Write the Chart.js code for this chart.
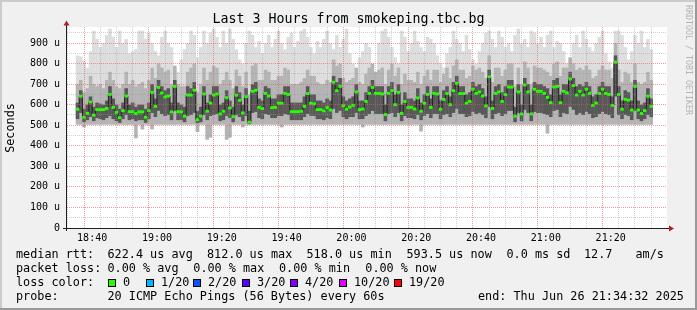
<!DOCTYPE html>
<html>
<head>
<meta charset="utf-8">
<title>Last 3 Hours from smokeping.tbc.bg</title>
<script src="https://cdn.jsdelivr.net/npm/chart.js@4.4.1/dist/chart.umd.min.js"></script>
<style>
  html, body { margin: 0; padding: 0; background: #f0f0f0; }
  canvas { display: block; }
</style>
</head>
<body>
<canvas id="smoke" width="697" height="310"></canvas>
<script>
// one column per minute, first column starts at 18:35 (minutes after 18:00)
const firstMinute = 35;

// median rtt per minute, in microseconds
const medianRtt = [
  578, 641, 539, 558, 613, 549, 576, 576, 576, 582,
  650, 587, 563, 537, 571, 642, 566, 566, 557, 565,
  565, 539, 571, 660, 592, 684, 657, 638, 642, 565,
  689, 566, 565, 544, 647, 647, 670, 527, 544, 652,
  568, 608, 647, 652, 555, 568, 634, 584, 542, 646,
  621, 560, 639, 515, 665, 670, 587, 581, 655, 642,
  586, 587, 607, 607, 655, 650, 566, 566, 566, 568,
  592, 654, 607, 604, 576, 576, 570, 586, 574, 709,
  668, 689, 595, 578, 589, 597, 662, 576, 579, 616,
  655, 684, 655, 655, 652, 552, 655, 668, 600, 660,
  558, 615, 587, 587, 579, 633, 568, 607, 650, 587,
  655, 652, 578, 626, 654, 600, 668, 704, 654, 654,
  607, 616, 675, 655, 662, 642, 594, 736, 582, 655,
  662, 616, 649, 686, 686, 544, 662, 555, 696, 662,
  555, 675, 665, 665, 655, 636, 610, 686, 689, 610,
  665, 658, 725, 693, 647, 665, 647, 675, 655, 597,
  608, 655, 675, 655, 650, 597, 807, 650, 578, 626,
  622, 574, 689, 574, 557, 571, 641, 592
];

// smoke: fastest ping of each minute
const pingMin = [
  503, 503, 490, 503, 503, 503, 503, 503, 503, 503,
  503, 503, 503, 503, 503, 503, 503, 503, 437, 503,
  480, 503, 503, 480, 503, 503, 503, 503, 503, 503,
  503, 503, 503, 503, 503, 503, 503, 467, 503, 503,
  430, 440, 503, 503, 503, 503, 430, 440, 503, 503,
  503, 490, 503, 503, 503, 503, 503, 503, 503, 503,
  503, 503, 503, 490, 503, 503, 503, 503, 503, 503,
  503, 503, 503, 503, 503, 503, 503, 503, 503, 503,
  503, 503, 503, 503, 503, 503, 503, 503, 490, 503,
  503, 503, 503, 503, 503, 503, 503, 503, 503, 503,
  503, 503, 503, 503, 503, 503, 470, 503, 503, 503,
  503, 503, 503, 503, 503, 503, 503, 503, 503, 503,
  503, 503, 503, 503, 503, 503, 503, 503, 503, 503,
  503, 503, 503, 503, 503, 503, 503, 503, 503, 503,
  503, 503, 503, 503, 503, 460, 503, 503, 503, 503,
  503, 503, 503, 503, 503, 503, 503, 503, 503, 503,
  503, 503, 503, 503, 503, 503, 503, 503, 503, 503,
  503, 503, 503, 503, 503, 503, 503, 503
];

// smoke: bottom of the dark core
const pingLow = [
  530, 560, 515, 525, 540, 520, 535, 530, 525, 535,
  545, 530, 520, 512, 530, 550, 525, 530, 520, 525,
  525, 512, 530, 560, 540, 570, 555, 545, 550, 525,
  570, 525, 525, 515, 545, 550, 560, 510, 515, 550,
  525, 545, 550, 555, 520, 525, 545, 535, 515, 550,
  540, 520, 545, 505, 560, 565, 535, 530, 555, 550,
  535, 535, 545, 545, 555, 550, 525, 525, 525, 525,
  540, 555, 545, 545, 530, 530, 525, 535, 530, 580,
  560, 570, 540, 530, 540, 540, 560, 530, 530, 545,
  555, 570, 555, 555, 555, 520, 555, 560, 540, 560,
  520, 545, 535, 535, 530, 550, 525, 545, 555, 535,
  555, 555, 530, 550, 555, 540, 560, 580, 555, 555,
  540, 545, 565, 555, 560, 550, 535, 590, 530, 555,
  560, 545, 555, 570, 570, 515, 560, 520, 575, 560,
  520, 565, 560, 560, 555, 550, 540, 570, 575, 540,
  560, 555, 590, 575, 550, 560, 550, 565, 555, 535,
  540, 555, 565, 555, 550, 535, 640, 550, 530, 550,
  545, 525, 570, 530, 520, 530, 550, 540
];

// smoke: top of the dark core
const pingHigh = [
  610, 670, 580, 600, 640, 590, 610, 605, 600, 620,
  690, 630, 600, 580, 610, 680, 600, 610, 590, 600,
  600, 580, 610, 700, 630, 720, 690, 670, 680, 610,
  720, 610, 600, 590, 690, 680, 710, 570, 590, 690,
  610, 650, 690, 690, 600, 610, 670, 620, 590, 690,
  660, 600, 680, 570, 700, 710, 630, 620, 690, 680,
  630, 630, 650, 650, 690, 690, 610, 610, 610, 610,
  640, 690, 650, 650, 620, 620, 610, 630, 620, 740,
  710, 730, 640, 620, 630, 640, 700, 620, 620, 660,
  690, 720, 690, 690, 690, 600, 690, 710, 650, 700,
  600, 660, 630, 630, 620, 680, 610, 650, 690, 630,
  690, 690, 620, 670, 690, 640, 710, 740, 690, 690,
  650, 660, 710, 690, 700, 680, 640, 770, 620, 690,
  700, 660, 690, 720, 720, 590, 700, 600, 730, 700,
  600, 710, 700, 700, 690, 680, 650, 720, 730, 650,
  700, 700, 760, 730, 690, 700, 690, 710, 690, 640,
  650, 690, 710, 690, 690, 640, 840, 690, 620, 670,
  660, 620, 720, 620, 600, 610, 680, 630
];

// smoke: top of the middle grey
const pingUpper = [
  700, 720, 660, 680, 740, 700, 690, 700, 680, 720,
  760, 720, 690, 680, 700, 760, 700, 720, 690, 700,
  710, 680, 720, 780, 730, 800, 780, 760, 770, 700,
  790, 700, 690, 690, 760, 780, 800, 660, 700, 780,
  720, 760, 790, 780, 700, 720, 760, 720, 680, 770,
  740, 690, 760, 650, 790, 800, 720, 720, 770, 760,
  720, 720, 740, 740, 780, 770, 700, 700, 700, 710,
  730, 770, 740, 740, 710, 700, 700, 720, 710, 820,
  790, 800, 730, 710, 720, 730, 780, 710, 700, 750,
  780, 800, 760, 770, 780, 700, 770, 800, 740, 780,
  700, 750, 720, 720, 710, 760, 700, 740, 770, 720,
  770, 770, 710, 750, 780, 730, 790, 820, 770, 770,
  730, 740, 790, 770, 780, 760, 730, 840, 710, 780,
  780, 740, 770, 800, 800, 690, 780, 700, 810, 780,
  700, 790, 780, 780, 770, 760, 740, 800, 810, 740,
  780, 780, 830, 800, 770, 780, 770, 790, 770, 730,
  740, 770, 790, 770, 770, 730, 900, 770, 710, 760,
  750, 710, 800, 710, 700, 710, 760, 720
];

// smoke: slowest ping of each minute
const pingMax = [
  840, 835, 815, 780, 860, 960, 920, 880, 900, 940,
  970, 930, 880, 960, 900, 920, 850, 860, 870, 960,
  960, 920, 950, 900, 860, 840, 930, 960, 900, 880,
  780, 760, 820, 870, 900, 960, 940, 830, 880, 960,
  900, 950, 970, 930, 880, 960, 900, 970, 920, 870,
  820, 800, 900, 960, 940, 880, 910, 850, 900, 940,
  880, 920, 960, 900, 870, 930, 950, 880, 910, 960,
  970, 930, 880, 850, 910, 880, 920, 960, 900, 870,
  940, 880, 920, 970, 850, 800, 780, 830, 860, 900,
  880, 760, 740, 900, 960, 970, 930, 880, 830, 800,
  960, 930, 860, 900, 960, 910, 880, 860, 930, 920,
  900, 840, 800, 780, 850, 880, 960, 920, 900, 860,
  940, 870, 820, 800, 860, 900, 950, 960, 920, 880,
  960, 930, 880, 900, 860, 940, 970, 900, 920, 880,
  960, 950, 900, 930, 880, 940, 960, 880, 910, 900,
  860, 800, 820, 900, 940, 880, 960, 920, 880, 860,
  900, 930, 960, 850, 810, 780, 960, 960, 940, 880,
  820, 860, 940, 900, 960, 880, 920, 870
];

// axis labels
const timeTicks = [40, 60, 80, 100, 120, 140, 160, 180, 200];
const timeLabels = ['18:40', '19:00', '19:20', '19:40', '20:00', '20:20', '20:40', '21:00', '21:20'];
const rttTicks = [0, 100, 200, 300, 400, 500, 600, 700, 800, 900];
const rttLabels = ['0', '100 u', '200 u', '300 u', '400 u', '500 u', '600 u', '700 u', '800 u', '900 u'];

// legend
const lossSteps = ['0', '1/20', '2/20', '3/20', '4/20', '10/20', '19/20'];
const lossColors = ['#26ff00', '#00b8ff', '#0059ff', '#5e00ff', '#7e00ff', '#dd00ff', '#ff0000'];
const rttStats = ['622.4 us avg', '812.0 us max', '518.0 us min', '593.5 us now', '0.0 ms sd', '12.7', 'am/s'];
const lossStats = ['0.00 % avg', '0.00 % max', '0.00 % min', '0.00 % now'];

const mono = '"DejaVu Sans Mono", monospace';
const majorGrid = 'rgba(230, 90, 90, 0.6)';
const minorGrid = 'rgba(150, 150, 150, 0.45)';

const colX = medianRtt.map((_, i) => firstMinute + i + 0.5);
const band = (lo, hi) => colX.map((x, i) => ({ x: x, y: [lo[i], hi[i]] }));

const minorTimes = [];
for (let t = 35; t <= 210; t += 5) minorTimes.push(t);
const minorRtts = [];
for (let v = 0; v <= 950; v += 50) minorRtts.push(v);

const barStyle = { type: 'bar', grouped: false, barPercentage: 1.1, categoryPercentage: 1, borderWidth: 0 };

const decor = {
  id: 'decor',
  beforeDraw(chart) {
    const { ctx, chartArea: a, width: w, height: h } = chart;
    ctx.save();
    ctx.fillStyle = '#f0f0f0';
    ctx.fillRect(0, 0, w, h);
    ctx.fillStyle = '#cbcbcb';
    ctx.fillRect(0, 0, w, 2);
    ctx.fillRect(0, 0, 2, h);
    ctx.fillStyle = '#999999';
    ctx.fillRect(0, h - 2, w, 2);
    ctx.fillRect(w - 2, 0, 2, h);
    ctx.fillStyle = '#ffffff';
    ctx.fillRect(a.left, a.top, a.right - a.left, a.bottom - a.top);
    ctx.restore();
  },
  afterDraw(chart) {
    const { ctx, chartArea: a } = chart;
    ctx.save();

    // axes + arrows
    ctx.strokeStyle = '#202020';
    ctx.lineWidth = 1;
    ctx.beginPath();
    ctx.moveTo(a.left - 0.5, a.bottom + 3);
    ctx.lineTo(a.left - 0.5, 24);
    ctx.moveTo(a.left - 4, a.bottom + 0.5);
    ctx.lineTo(a.right + 4, a.bottom + 0.5);
    ctx.stroke();
    ctx.fillStyle = '#b02020';
    ctx.beginPath();
    ctx.moveTo(a.left - 0.5, 20.5);
    ctx.lineTo(a.left - 3.5, 25.5);
    ctx.lineTo(a.left + 2.5, 25.5);
    ctx.closePath();
    ctx.fill();
    ctx.beginPath();
    ctx.moveTo(a.right + 7, a.bottom + 0.5);
    ctx.lineTo(a.right + 2, a.bottom - 2.5);
    ctx.lineTo(a.right + 2, a.bottom + 3.5);
    ctx.closePath();
    ctx.fill();

    // title
    ctx.fillStyle = '#000000';
    ctx.textBaseline = 'middle';
    ctx.textAlign = 'center';
    ctx.font = '13.3px ' + mono;
    ctx.fillText('Last 3 Hours from smokeping.tbc.bg', 348.5, 19.5);

    // vertical labels
    ctx.font = '11.8px ' + mono;
    ctx.save();
    ctx.translate(11, 128);
    ctx.rotate(-Math.PI / 2);
    ctx.fillText('Seconds', 0, 0);
    ctx.restore();
    ctx.save();
    ctx.fillStyle = '#b4b4b4';
    ctx.font = '8.3px ' + mono;
    ctx.textAlign = 'left';
    ctx.translate(688, 5);
    ctx.rotate(Math.PI / 2);
    ctx.fillText('RRDTOOL / TOBI OETIKER', 0, 0);
    ctx.restore();

    // legend
    ctx.textAlign = 'left';
    ctx.font = '11.8px ' + mono;
    ctx.fillText('median rtt:', 16, 255);
    const rttX = [107.5, 207, 306.5, 406.5, 506.5, 584, 635.5];
    rttStats.forEach((s, i) => ctx.fillText(s, rttX[i], 255));
    ctx.fillText('packet loss:', 16, 268.5);
    const lossX = [107.5, 193.3, 279, 365.3];
    lossStats.forEach((s, i) => ctx.fillText(s, lossX[i], 268.5));
    ctx.fillText('loss color:', 16, 282.5);
    const boxX = [108, 146, 193, 242, 290, 339, 394];
    lossSteps.forEach((s, i) => {
      ctx.fillStyle = '#000000';
      ctx.fillRect(boxX[i], 279, 8, 8);
      ctx.fillStyle = lossColors[i];
      ctx.fillRect(boxX[i] + 1, 280, 6, 6);
      ctx.fillStyle = '#000000';
      ctx.fillText(s, boxX[i] + 15, 282.5);
    });
    ctx.fillText('probe:', 16, 296.5);
    ctx.fillText('20 ICMP Echo Pings (56 Bytes) every 60s', 107.5, 296.5);
    ctx.fillText('end: Thu Jun 26 21:34:32 2025', 478, 296.5);
    ctx.restore();
  }
};

new Chart(document.getElementById('smoke'), {
  type: 'bar',
  data: {
    datasets: [
      Object.assign({}, barStyle, {
        label: 'median',
        data: colX.map((x, i) => ({ x: x, y: [medianRtt[i] - 7, medianRtt[i] + 7] })),
        backgroundColor: lossColors[0],
        order: 0
      }),
      {
        type: 'line',
        label: 'median line',
        data: colX.map((x, i) => ({ x: x, y: medianRtt[i] })),
        stepped: 'middle',
        borderColor: '#202020',
        borderWidth: 1,
        pointRadius: 0,
        fill: false,
        order: 1
      },
      Object.assign({}, barStyle, { label: 'core', data: band(pingLow, pingHigh), backgroundColor: '#585858', order: 2 }),
      Object.assign({}, barStyle, { label: 'mid', data: band(pingMin, pingUpper), backgroundColor: '#b4b4b4', order: 3 }),
      Object.assign({}, barStyle, { label: 'light', data: band(pingMin, pingMax), backgroundColor: '#dddddd', order: 4 })
    ]
  },
  options: {
    responsive: false,
    devicePixelRatio: 1,
    animation: false,
    events: [],
    layout: { padding: { top: 27, right: 30, left: 0, bottom: 0 } },
    plugins: { legend: { display: false }, title: { display: false }, tooltip: { enabled: false } },
    scales: {
      x: {
        type: 'linear',
        min: 34.81,
        max: 214.81,
        afterFit: s => { s.height = 82; },
        afterBuildTicks: s => { s.ticks = minorTimes.map(v => ({ value: v })); },
        border: { display: false, dash: [1, 1] },
        grid: {
          z: 1,
          drawTicks: false,
          color: c => (c.tick && timeTicks.includes(c.tick.value)) ? majorGrid : minorGrid
        },
        ticks: {
          autoSkip: false,
          maxRotation: 0,
          minRotation: 0,
          padding: 4,
          color: '#000000',
          font: { family: mono, size: 10 },
          callback: v => {
            const i = timeTicks.indexOf(v);
            return i >= 0 ? timeLabels[i] : '';
          }
        }
      },
      y: {
        min: 0,
        max: 978,
        afterFit: s => { s.width = 67; },
        afterBuildTicks: s => { s.ticks = minorRtts.map(v => ({ value: v })); },
        border: { display: false, dash: [1, 1] },
        grid: {
          z: 1,
          drawTicks: false,
          color: c => (c.tick && rttTicks.includes(c.tick.value)) ? majorGrid : minorGrid
        },
        ticks: {
          autoSkip: false,
          padding: 7,
          color: '#000000',
          font: { family: mono, size: 10 },
          callback: v => {
            const i = rttTicks.indexOf(v);
            return i >= 0 ? rttLabels[i] : '';
          }
        }
      }
    }
  },
  plugins: [decor]
});
</script>
</body>
</html>
